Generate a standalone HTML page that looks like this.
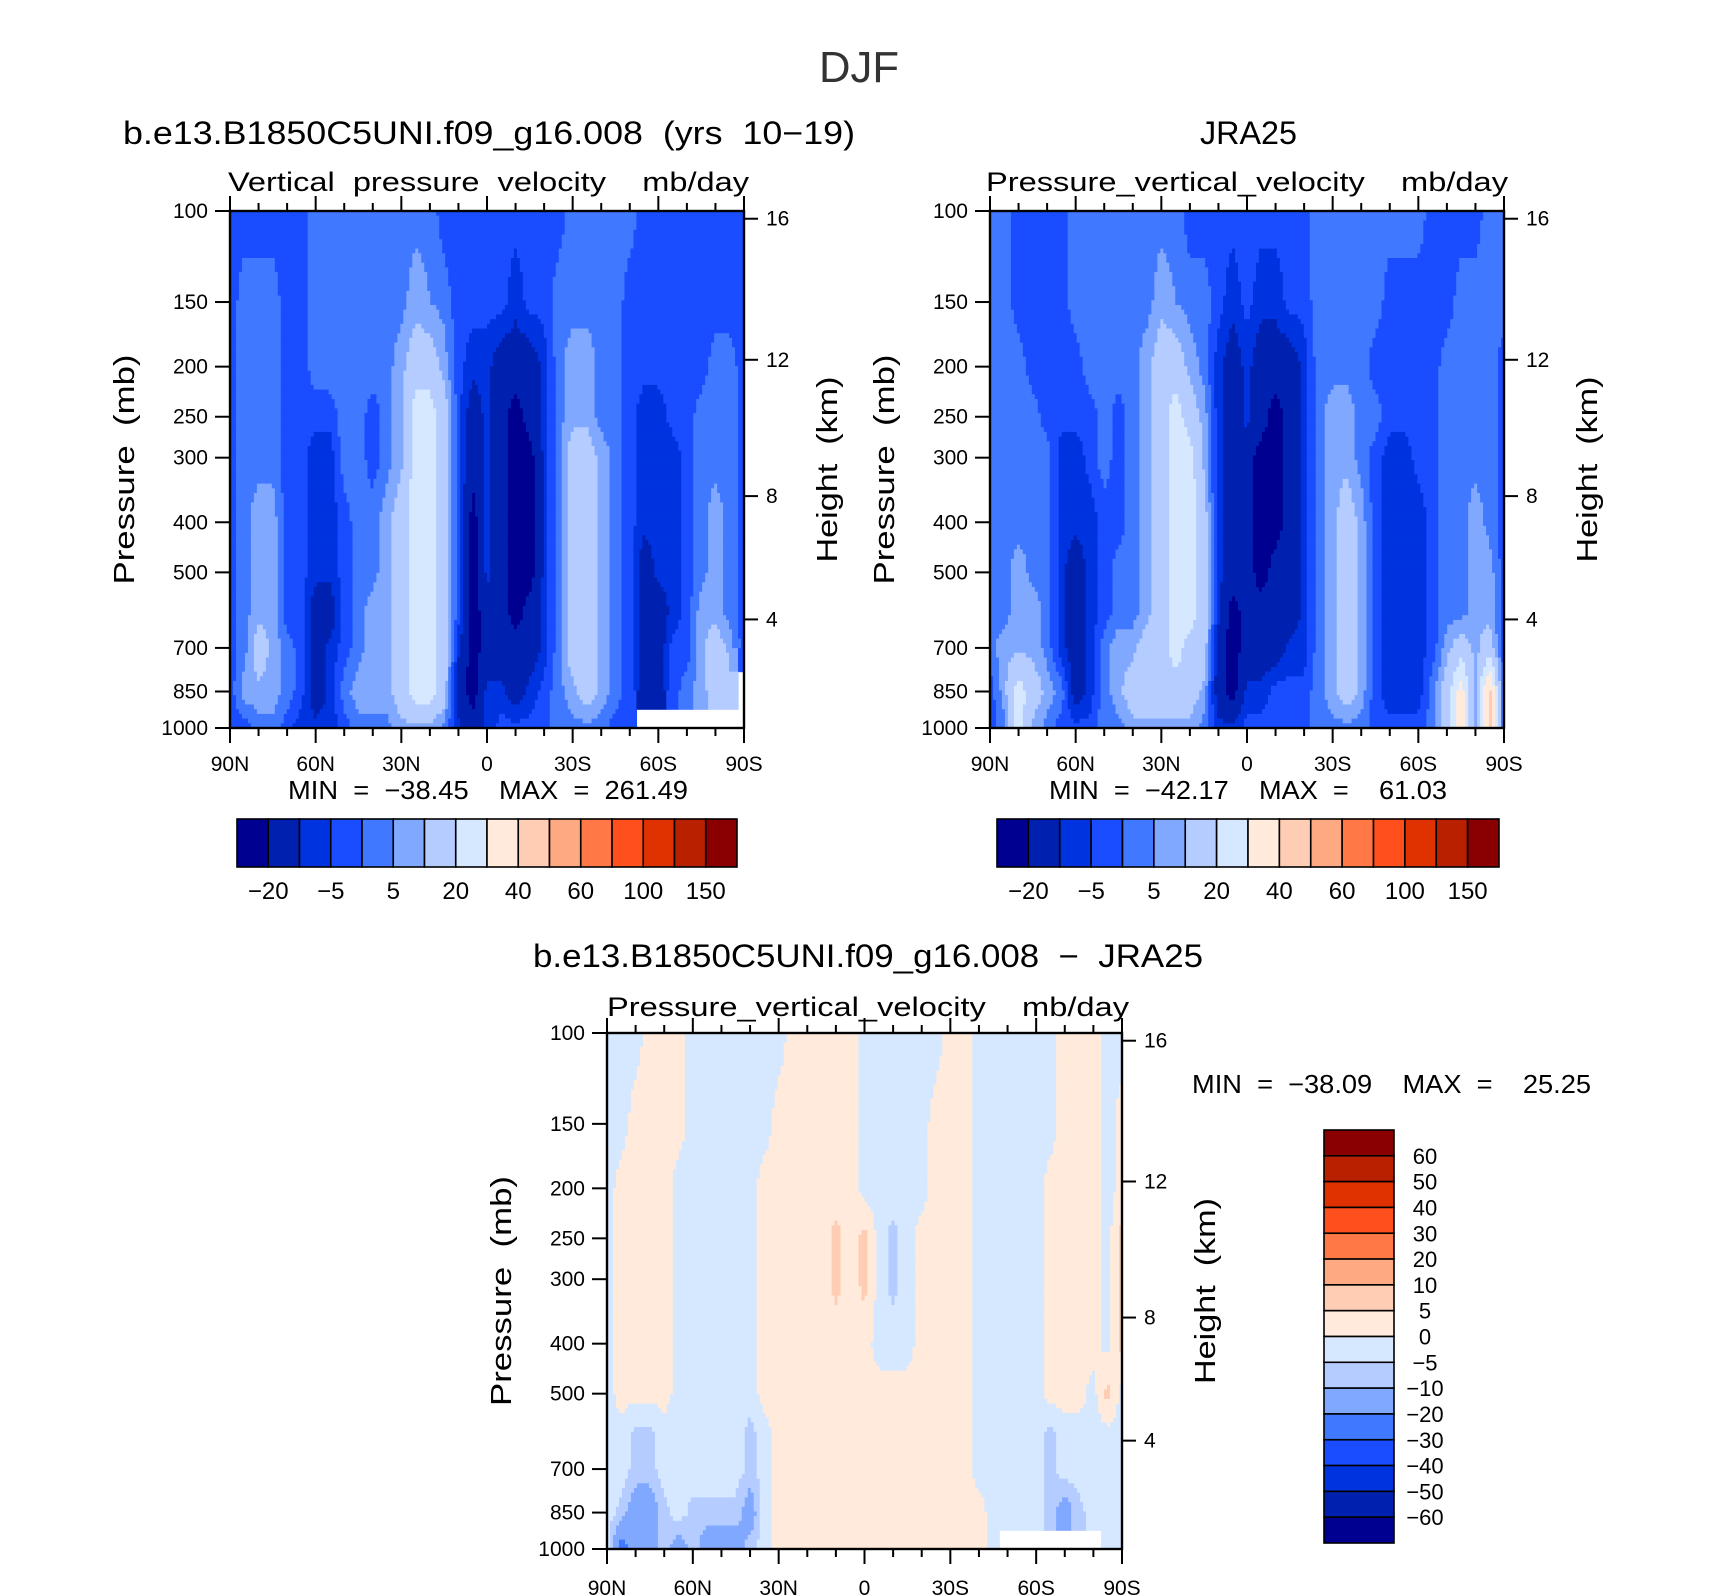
<!DOCTYPE html>
<html><head><meta charset="utf-8">
<style>
html,body{margin:0;padding:0;background:#fff;}
svg{display:block;font-family:"Liberation Sans",sans-serif;}
text{white-space:pre;}
</style></head>
<body>
<svg id="fig" width="1710" height="1596" viewBox="0 0 1710 1596" xmlns="http://www.w3.org/2000/svg" xml:space="preserve">
<text x="859" y="82" font-size="44" text-anchor="middle" fill="#333" textLength="80" lengthAdjust="spacingAndGlyphs">DJF</text>
<g id="layer"></g>
</svg>
<script>
// ---- data ----
const lats = [90,85,80,75,70,65,60,55,50,45,40,35,30,25,20,15,10,5,0,-5,-10,-15,-20,-25,-30,-35,-40,-45,-50,-55,-60,-65,-70,-75,-80,-85,-90];
const pLevels = [100,150,200,250,300,400,500,600,700,850,1000];
const modelOmega = [
[-3,-3,-3,-3,-3,-3, 3,3,3,3,3,3,3,3,3, -3,-3,-3,-3,-3,-3,-3,-3,-3, 3,3,3,3,3, -3,-3,-3,-3,-3,-3,-3,-3],
[-3,3,3,3,-3,-3, 3,3,3,3,3,3,3,8,5, 3,-3,-3,-3,-3,-8,-3,-3, 3,3,3,3,3, -3,-3,-3,-3,-3,-3,-3,-3,-3],
[-3,3,3,3,-3,-3, 3,3,3,3,3, 3,8,15,15,8, -3,-8,-8,-15,-15,-15,-8, 3,8,8,3,3, -3,-3,-3,-3,-3,-3, 3,3,-3],
[-3,3,3,3,-3,-3, -3,-3,3,3,-3, 3,8,25,25,15, -3,-15,-8,-15,-25,-15,-8, 3,8,8,3,3, -3,-8,-8,-3,-3, 3,3,3,-3],
[-3,3,3,3,-3,-3, -8,-8,3,3,-3, 3,8,25,25,15, -3,-15,-8,-15,-25,-25,-8, 3,15,15,8,3, -3,-8,-8,-8,-3, 3,3,3,-3],
[-3,3,8,8,-3,-3, -8,-8,-3,3,3, 8,15,25,25,15, -3,-25,-8,-15,-25,-25,-8, 3,15,15,8,3, -3,-8,-8,-8,-3, 3,8,3,-3],
[-3,3,8,8,-3,-3, -8,-8,-3,3,3, 8,15,25,25,15, -3,-25,-8,-15,-25,-25,-8, 3,15,15,8,3, -3,-15,-8,-8,-3, 3,8,3,-3],
[-3,3,8,8,-3,-3, -15,-15,-3,3,8, 8,15,25,25,15, -3,-25,-15,-15,-25,-15,-8, 3,15,15,8,3, -3,-15,-15,-8,-3, 8,8,3,-3],
[-3,3,15,8,3,-3, -15,-8,-3,3,8, 8,15,25,25,15, -8,-25,-15,-15,-15,-15,-8, 3,15,15,8,3, -3,-15,-15,-3,-3, 8,15,8,-3],
[-3,8,8,8,3,-3, -15,-8,3,8,8, 8,15,25,25,15, -15,-25,-8,-8,-15,-8,-3, 3,8,15,8,3, -3,-15,-15,-3,3, 8,15,15,null],
[-3,-3,3,3,-3,-8, -8,-8,-3,3,3, 3,8,8,8,3, -8,-15,-8,-3,-3,-3,-3, 3,3,3,3,-3, -3,null,null,null,null, null,null,null,null]
];
const jraOmega = [
[3,3,-3,-3,-3,-3, 3,3,3,3,3, 3,3,3,-3,-3, -3,-3,-3,-3,-3,-3,-3, 3,3,3,3,3, 3,3,3,-3,-3, -3,-3,3,3],
[3,3,-3,-3,-3,-3, 3,3,3,3,3, 3,8,5,3,3, -3,-8,-3,-8,-8,-3,-3, 3,3,3,3,3, -3,-3,-3,-3,-3, 3,3,3,3],
[3,3,3,-3,-3,-3, -3,3,3,3,3, 8,15,15,8,3, -8,-15,-8,-15,-15,-15,-8, 3,3,3,3,-3, -3,-3,-3,-3,3, 3,3,3,-3],
[3,3,3,3,-3,-3, -3,-3,3,-3,3, 8,15,25,15,8, -8,-15,-8,-15,-25,-15,-8, 3,8,8,3,3, -3,-3,-3,-3,3, 3,3,3,-3],
[3,3,3,3,3,-8, -8,-3,3,-3,3, 8,15,25,25,8, -8,-15,-15,-25,-25,-15,-8, 3,8,8,3,-3, -8,-8,-3,-3,3, 3,3,3,-3],
[3,3,3,3,3,-8, -8,-8,-3,-3,3, 8,15,25,25,15, -8,-15,-15,-25,-25,-15,-8, 3,8,15,8,-3, -8,-8,-8,-3,3, 3,8,3,-3],
[3,3,8,3,3,-8, -15,-8,-3,3,3, 8,15,25,25,15, -8,-15,-15,-25,-15,-15,-8, 3,8,15,8,-3, -8,-8,-8,-3,3, 3,8,8,-3],
[3,3,8,8,3,-8, -15,-8,-3,3,3, 8,15,25,25,15, -8,-25,-15,-15,-15,-15,-8, 3,8,15,8,-3, -8,-8,-8,-3,3, 3,8,8,-3],
[3,8,8,8,3,-8, -15,-8,3,8,8, 15,15,25,15,15, -15,-25,-15,-15,-15,-8,-8, 3,8,15,8,-3, -8,-8,-8,-3,8, 15,8,15,-3],
[-3,8,25,15,8,3, -15,-8,3,8,15, 15,15,15,15,8, -15,-25,-8,-8,-3,-3,-3, 3,8,15,8,-3, -8,-8,-8,3,15, 35,8,45,-3],
[-3,3,25,8,3,-3, -3,-3,3,3,8, 8,8,8,8,3, -8,-8,-3,-3,-3,-3,-3, 3,3,3,3,-3, -3,-3,-3,3,15, 35,8,45,-3]
];
const diffOmega = [
[-2,-2,-2,2,2,2, -2,-2,-2,-2,-2, -2,-2,2,2,2, 2,2,-2,-2,-2,-2,-2, -2,2,2,-2,-2, -2,-2,-2,-2,2, 2,2,-2,-2],
[-2,-2,2,2,2,2, -2,-2,-2,-2,-2, -2,2,2,2,2, 2,2,-2,-2,-2,-2,-2, 2,2,2,-2,-2, -2,-2,-2,-2,2, 2,2,-2,2],
[-2,2,2,2,2,-2, -2,-2,-2,-2,-2, 2,2,2,2,2, 2,2,-2,-2,-2,-2,-2, 2,2,2,-2,-2, -2,-2,-2,2,2, 2,2,-2,2],
[-2,2,2,2,2,-2, -2,-2,-2,-2,-2, 2,2,2,2,2, 7,2,7,-2,-7,-2,2, 2,2,2,-2,-2, -2,-2,-2,2,2, 2,2,-2,7],
[-2,2,2,2,2,-2, -2,-2,-2,-2,-2, 2,2,2,2,2, 7,2,7,-2,-7,-2,2, 2,2,2,-2,-2, -2,-2,-2,2,2, 2,2,-2,7],
[-2,2,2,2,2,-2, -2,-2,-2,-2,-2, 2,2,2,2,2, 2,2,2,-2,-2,-2,2, 2,2,2,-2,-2, -2,-2,-2,2,2, 2,2,-2,7],
[-2,2,2,2,2,-2, -2,-2,-2,-2,-2, 2,2,2,2,2, 2,2,2,2,2,2,2, 2,2,2,-2,-2, -2,-2,-2,2,2, 2,-2,7,-2],
[-2,-2,-7,-7,-2,-2, -2,-2,-2,-2,-7, -2,2,2,2,2, 2,2,2,2,2,2,2, 2,2,2,-2,-2, -2,-2,-2,-7,-2, -2,-2,-2,-2],
[-2,-2,-7,-7,-2,-2, -2,-2,-2,-2,-7, -2,2,2,2,2, 2,2,2,2,2,2,2, 2,2,2,-2,-2, -2,-2,-2,-7,-2, -2,-2,-2,-2],
[-2,-7,-15,-15,-7,-2, -7,-7,-7,-7,-15, -2,2,2,2,2, 2,2,2,2,2,2,2, 2,2,2,2,-2, -2,-2,-2,-7,-15, -7,-2,-2,-2],
[-2,-25,-15,-15,-7,-15, -7,-15,-15,-15,-7, -2,2,2,2,2, 2,2,2,2,2,2,2, 2,2,2,2,-2, null,null,null,null,null, null,null,-2,-2]
];
const absLevels = [-20,-10,-5,0,5,10,20,30,40,50,60,80,100,120,150];
const absLabels = ["\u221220","\u22125","5","20","40","60","100","150"];
const diffLevels = [-60,-50,-40,-30,-20,-10,-5,0,5,10,20,30,40,50,60];
const diffLabels = ["60","50","40","30","20","10","5","0","\u22125","\u221210","\u221220","\u221230","\u221240","\u221250","\u221260"];
const palette = ['#000090','#0020b0','#0033e0','#1a4dff','#4078ff','#80a8ff','#b4ccff','#d6e8ff','#ffeadb','#ffcdb4','#ffa983','#ff7845','#ff4f1c','#e03200','#b82000','#8a0000'];
const pTicks = [100,150,200,250,300,400,500,700,850,1000];
const latTicks = [90,60,30,0,-30,-60,-90];
const latTickLabels = ["90N","60N","30N","0","30S","60S","90S"];
const heightTicks = [16,12,8,4];
const heightTickPressures = [103.5,194.0,356.0,616.6];
const minMax1 = ["MIN  =  \u221238.45", "MAX  =  261.49"];
const minMax2 = ["MIN  =  \u221242.17", "MAX  =    61.03"];
const minMax3 = ["MIN  =  \u221238.09", "MAX  =    25.25"];

// ---- drawing ----
const NS = "http://www.w3.org/2000/svg";
const layer = document.getElementById('layer');
function mk(tag, attrs, parent){ const e=document.createElementNS(NS,tag); for(const k in attrs) e.setAttribute(k,attrs[k]); (parent||layer).appendChild(e); return e; }
function txt(s, attrs, parent){ const e=mk('text',attrs,parent); e.textContent=s; return e; }
function levelIndex(v, lv){ let i=0; while(i<lv.length && v>=lv[i]) i++; return i; }

function sample(data, lat, p){
  const fi=(90-lat)/5; let i=Math.min(Math.floor(fi),lats.length-2); const tx=fi-i;
  const lp=Math.log10(p); let j=0; while(j<pLevels.length-2 && p>pLevels[j+1]) j++;
  const l0=Math.log10(pLevels[j]), l1=Math.log10(pLevels[j+1]); const ty=Math.max(0,Math.min(1,(lp-l0)/(l1-l0)));
  const a=data[j][i], b=data[j][i+1], c=data[j+1][i], d=data[j+1][i+1];
  if(a===null||b===null||c===null||d===null){
    const n=data[ty<0.5?j:j+1][tx<0.5?i:i+1]; return n;
  }
  return (a*(1-tx)+b*tx)*(1-ty)+(c*(1-tx)+d*tx)*ty;
}

function drawPanel(cfg){
  const g=mk('g',{});
  
  
  const {x0,y0,w,h}=cfg;
  const xOf=lat=>x0+(90-lat)/180*w;
  const yOf=p=>y0+Math.log10(p/100)*h;
  const field=mk('g',{},g);
  
  
  const nx=172, ny=110;
  for(let r=0;r<ny;r++){
    const pA=100*Math.pow(10,r/ny), pB=100*Math.pow(10,(r+1)/ny);
    const pm=100*Math.pow(10,(r+0.5)/ny);
    const ya=yOf(pA), yb=yOf(pB);
    let runStart=0, runCol=null;
    const flush=(endc)=>{
      if(runCol!==null){
        const xa=x0+runStart/nx*w, xb=x0+endc/nx*w;
        const rc=mk('rect',{x:xa.toFixed(2),y:ya.toFixed(2),width:(xb-xa+0.6).toFixed(2),height:(yb-ya+0.6).toFixed(2),fill:runCol},field);
        
        
      }
    };
    for(let c=0;c<nx;c++){
      const lat=90-(c+0.5)/nx*180;
      const v=sample(cfg.data,lat,pm);
      const col = v===null ? null : palette[levelIndex(v,cfg.levels)];
      if(c===0){runCol=col;runStart=0;continue;}
      if(col!==runCol){ flush(c); runCol=col; runStart=c; }
    }
    flush(nx);
  }
  const fr=mk('rect',{x:x0,y:y0,width:w,height:h,fill:'none',stroke:'#000','stroke-width':2.4},g);
  
  
  for(let lat=90;lat>=-90;lat-=10){
    const major = lat%30===0; const L = major?15:8; const x=xOf(lat);
    mk('line',{x1:x,x2:x,y1:y0,y2:y0-L,stroke:'#000','stroke-width':2},g);
    mk('line',{x1:x,x2:x,y1:y0+h,y2:y0+h+L,stroke:'#000','stroke-width':2},g);
  }
  latTicks.forEach((lat,k)=>{
    const t=txt(latTickLabels[k],{x:xOf(lat),y:y0+h+cfg.xlabDy,'font-size':cfg.tickFs,'text-anchor':'middle'},g);
    
    
  });
  pTicks.forEach(p=>{
    const y=yOf(p);
    mk('line',{x1:x0-15,x2:x0,y1:y,y2:y,stroke:'#000','stroke-width':2},g);
    const t=txt(String(p),{x:x0-22,y:y+7,'font-size':cfg.tickFs,'text-anchor':'end'},g);
    
    
  });
  heightTicks.forEach((hk,k)=>{
    const y=yOf(heightTickPressures[k]);
    mk('line',{x1:x0+w,x2:x0+w+14,y1:y,y2:y,stroke:'#000','stroke-width':2},g);
    const t=txt(String(hk),{x:x0+w+22,y:y+7,'font-size':cfg.tickFs},g);
    
    
  });
  const cy=y0+h/2;
  const yt=txt('Pressure  (mb)',{x:0,y:0,'font-size':29,'text-anchor':'middle',transform:`translate(${x0-96},${cy}) rotate(-90)`,textLength:230,lengthAdjust:'spacingAndGlyphs'},g);
  
  
  const ht=txt('Height  (km)',{x:0,y:0,'font-size':29,'text-anchor':'middle',transform:`translate(${x0+w+93},${cy}) rotate(-90)`,textLength:186,lengthAdjust:'spacingAndGlyphs'},g);
  
  
  return {xOf,yOf};
}

function hBar(x0,y0,w,h,name){
  const g=mk('g',{});
  
  
  const bw=w/palette.length;
  palette.forEach((c,i)=>{
    const r=mk('rect',{x:x0+i*bw,y:y0,width:bw,height:h,fill:c,stroke:'#000','stroke-width':1.6},g);
    
    
  });
  absLabels.forEach((s,k)=>{
    const t=txt(s,{x:x0+(2*k+1)*bw,y:y0+h+32,'font-size':24,'text-anchor':'middle'},g);
    
    
  });
}

const P1=drawPanel({name:'model-panel',x0:230,y0:211,w:514,h:517,data:modelOmega,levels:absLevels,tickFs:21,xlabDy:43});
const P2=drawPanel({name:'jra25-panel',x0:990,y0:211,w:514,h:517,data:jraOmega,levels:absLevels,tickFs:21,xlabDy:43});
const P3=drawPanel({name:'difference-panel',x0:607,y0:1033,w:515,h:516,data:diffOmega,levels:diffLevels,tickFs:21,xlabDy:46});

function title(s,x,y,fs,len,name){
  const t=txt(s,{x:x,y:y,'font-size':fs,textLength:len,lengthAdjust:'spacingAndGlyphs'});
  
  
}
title('b.e13.B1850C5UNI.f09_g16.008  (yrs  10\u221219)',123,144,32,732,'model-title');
title('Vertical  pressure  velocity    mb/day',228,191,27,521,'model-subtitle');
title('JRA25',1200,144,32,97,'jra25-title');
title('Pressure_vertical_velocity    mb/day',986,191,27,522,'jra25-subtitle');
title('b.e13.B1850C5UNI.f09_g16.008  \u2212  JRA25',533,967,32,670,'difference-title');
title('Pressure_vertical_velocity    mb/day',607,1016,27,522,'difference-subtitle');
title(minMax1[0]+'    '+minMax1[1],288,799,26,400,'model-min-max');
title(minMax2[0]+'    '+minMax2[1],1049,799,26,398,'jra25-min-max');
title(minMax3[0]+'    '+minMax3[1],1192,1093,26,399,'difference-min-max');

hBar(237,819,500,48,'model-colorbar');
hBar(997,819,502,48,'jra25-colorbar');

(function(){
  const g=mk('g',{});
  
  
  const x0=1324,y0=1130,w=70,h=413; const bh=h/palette.length;
  for(let i=0;i<palette.length;i++){
    const r=mk('rect',{x:x0,y:y0+i*bh,width:w,height:bh,fill:palette[palette.length-1-i],stroke:'#000','stroke-width':1.6},g);
    
    
  }
  diffLabels.forEach((s,k)=>{
    const t=txt(s,{x:1425,y:y0+(k+1)*bh+8,'font-size':22,'text-anchor':'middle'},g);
    
    
  });
})();
</script>
</body></html>
